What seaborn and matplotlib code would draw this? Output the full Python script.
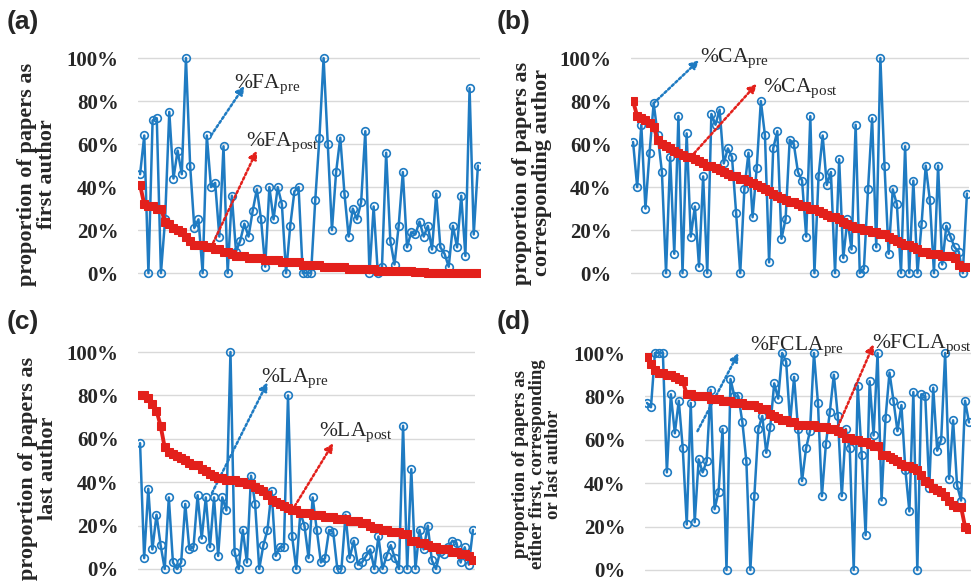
# Authorship proportions before / after - four panel line chart
import numpy as np
import pandas as pd
import matplotlib.pyplot as plt
import seaborn as sns

# Data (percent)
fa_pre = [46, 64, 0, 71, 72, 0, 25, 75, 44, 57,
          46, 100, 50, 21, 25, 0, 64, 40, 42, 17,
          59, 0, 36, 10, 15, 23, 17, 29, 39, 25,
          3, 40, 25, 40, 32, 0, 22, 38, 40, 0,
          0, 0, 34, 63, 100, 60, 20, 47, 63, 37,
          17, 30, 25, 33, 66, 0, 31, 0, 3, 56,
          15, 4, 22, 47, 12, 19, 18, 24, 17, 22,
          11, 37, 12, 9, 3, 22, 12, 36, 8, 86,
          18, 50]
fa_post = [41, 32, 31, 31, 30, 30, 24, 23, 21, 20,
           19, 17, 15, 13, 13, 13, 12, 12, 11, 11,
           10, 10, 9, 8, 8, 8, 7, 7, 7, 7,
           6, 6, 6, 6, 5, 5, 5, 5, 5, 4,
           4, 4, 4, 4, 3, 3, 3, 3, 3, 3,
           2, 2, 2, 2, 2, 2, 2, 1, 1, 1,
           1, 1, 1, 1, 1, 1, 0.5, 0.5, 0.5, 0,
           0, 0, 0, 0, 0, 0, 0, 0, 0, 0,
           0, 0]

ca_pre = [61, 40, 69, 30, 56, 79, 64, 47, 0, 54,
          9, 73, 0, 65, 17, 31, 3, 45, 0, 74,
          69, 76, 51, 58, 54, 28, 0, 39, 56, 26,
          49, 80, 64, 5, 58, 66, 16, 25, 62, 60,
          47, 43, 17, 73, 0, 45, 64, 41, 47, 0,
          53, 7, 25, 11, 69, 0, 2, 39, 72, 12,
          100, 50, 9, 39, 32, 0, 59, 0, 43, 0,
          23, 50, 34, 0, 50, 4, 22, 17, 12, 10,
          0, 37]
ca_post = [80, 73, 72, 71, 70, 68, 62, 60, 59, 58,
           57, 56, 55, 54, 54, 53, 52, 51, 50, 50,
           49, 48, 47, 46, 45, 45, 44, 44, 43, 42,
           41, 40, 39, 38, 37, 36, 35, 34, 33, 33,
           32, 31, 31, 30, 30, 29, 28, 27, 26, 26,
           25, 24, 23, 22, 21, 21, 20, 20, 19, 19,
           18, 18, 17, 16, 15, 14, 13, 13, 12, 11,
           10, 10, 9, 9, 9, 8, 8, 8, 7, 4,
           3, 3]

la_pre = [58, 5, 37, 9, 25, 11, 0, 33, 3, 0,
          3, 30, 9, 10, 34, 14, 33, 10, 33, 6,
          33, 27, 100, 8, 0, 18, 3, 43, 30, 0,
          11, 18, 36, 6, 10, 10, 80, 15, 0, 26,
          20, 5, 33, 18, 3, 5, 18, 17, 0, 0,
          25, 5, 13, 2, 3, 6, 9, 0, 15, 0,
          6, 11, 5, 0, 66, 0, 46, 0, 18, 9,
          20, 4, 0, 8, 7, 10, 13, 12, 3, 10,
          2, 18]
la_post = [80, 80, 79, 76, 73, 66, 56, 54, 53, 52,
           51, 50, 49, 48, 48, 46, 45, 44, 43, 42,
           42, 41, 41, 41, 40, 40, 39, 39, 38, 37,
           36, 34, 32, 31, 30, 29, 28, 27, 27, 26,
           26, 26, 25, 25, 25, 24, 24, 24, 23, 23,
           23, 22, 22, 22, 21, 21, 20, 19, 19, 18,
           18, 17, 17, 17, 16, 16, 13, 13, 12, 12,
           11, 10, 10, 9, 9, 9, 8, 8, 7, 7,
           6, 4]

fcla_pre = [77, 75, 100, 100, 100, 45, 81, 63, 78, 56,
            21, 77, 22, 51, 45, 50, 83, 28, 36, 65,
            0, 88, 80, 80, 68, 50, 0, 34, 65, 71,
            54, 66, 86, 79, 100, 96, 68, 89, 65, 41,
            56, 64, 100, 77, 34, 58, 73, 90, 71, 34,
            65, 56, 0, 85, 53, 16, 87, 62, 100, 32,
            70, 91, 78, 64, 76, 46, 27, 82, 0, 81,
            80, 38, 84, 55, 60, 100, 42, 69, 39, 32,
            78, 68]
fcla_post = [98, 95, 92, 91, 91, 90, 90, 89, 88, 87,
             81, 81, 80, 80, 80, 80, 79, 79, 79, 78,
             78, 78, 77, 77, 77, 76, 76, 76, 75, 74,
             74, 72, 71, 70, 69, 69, 68, 68, 67, 67,
             67, 67, 67, 66, 66, 66, 65, 65, 64, 63,
             61, 61, 60, 60, 59, 59, 58, 57, 57, 53,
             53, 52, 51, 50, 49, 48, 48, 47, 46, 44,
             41, 40, 38, 37, 36, 34, 32, 30, 29, 29,
             20, 19]

panels = ['(a)', '(b)', '(c)', '(d)']
ylabels = ['proportion of papers as\nfirst author',
           'proportion of papers as\ncorresponding author',
           'proportion of papers as\nlast author',
           'proportion of papers as\neither first, corresponding\nor last author']
names = ['FA', 'CA', 'LA', 'FCLA']
pre_series = [fa_pre, ca_pre, la_pre, fcla_pre]
post_series = [fa_post, ca_post, la_post, fcla_post]

BLUE = '#1f7bc2'
RED = '#e3201b'
W, H = 971, 581

sns.set_style("white")
plt.rcParams['font.family'] = ['Liberation Serif', 'DejaVu Serif']
plt.rcParams['mathtext.fontset'] = 'custom'
plt.rcParams['mathtext.rm'] = 'Liberation Serif'
plt.rcParams['mathtext.it'] = 'Liberation Serif'

fig = plt.figure(figsize=(9.71, 5.81), dpi=100)

# axes boxes in pixels: left, top, width, height
boxes = [(138, 51.6, 342, 228), (631, 51.6, 338, 228),
         (138, 345.5, 337, 230), (645, 346.5, 326, 230)]
# arrow tail/head and label position (index, percent)
blue_arrows = [((17, 64), (25, 87), (22.5, 88)),
               ((5, 79), (16, 99), (16.3, 100)),
               ((17.5, 35), (31, 86), (29.5, 88)),
               ((12.7, 64), (23, 100), (26, 103))]
red_arrows = [((17, 12), (28, 57), (25.5, 61)),
              ((14, 54), (30, 88), (31.5, 86)),
              ((37, 27), (47, 58), (43.5, 63)),
              ((48, 66), (57, 104), (56.5, 104))]
ylab_x = [37, 532, 38, 537]
ylab_y = [174, 173, 468, 464]
ylab_size = [16, 16, 16, 13.5]
plab_pos = [(7, 22), (497, 22), (7, 322), (497, 322)]

for i in range(4):
    l, t, w, h = boxes[i]
    ax = fig.add_axes([l / W, 1 - (t + h) / H, w / W, h / H])
    pre = pre_series[i]
    post = post_series[i]
    df = pd.DataFrame({'idx': np.arange(len(pre)), 'pre': pre, 'post': post})

    sns.lineplot(data=df, x='idx', y='pre', ax=ax, color=BLUE, linewidth=1.8,
                 marker='o', markersize=5.5, markerfacecolor='none',
                 markeredgecolor=BLUE, markeredgewidth=1.2, zorder=3)
    sns.lineplot(data=df, x='idx', y='post', ax=ax, color=RED, linewidth=2.8,
                 marker='s', markersize=5.5, markeredgecolor=RED, zorder=4)

    ax.set_xlim(-0.5, len(pre) - 0.5)
    ax.set_ylim(-3, 103)
    ax.set_yticks([0, 20, 40, 60, 80, 100])
    ax.set_yticklabels([f'{v}%' for v in [0, 20, 40, 60, 80, 100]],
                       fontsize=15, fontweight='bold')
    ax.set_xticks([])
    ax.tick_params(axis='y', length=0, pad=14)
    ax.grid(axis='y', color='#d9d9d9', linewidth=1)
    ax.set_xlabel('')
    ax.set_ylabel('')
    for s in ax.spines.values():
        s.set_visible(False)

    # dotted arrows and labels
    tail, head, tpos = blue_arrows[i]
    ax.annotate('', xy=head, xytext=tail, annotation_clip=False,
                arrowprops=dict(arrowstyle='-|>', linestyle=(0, (1, 1)), lw=1.8,
                                color=BLUE, mutation_scale=12, shrinkA=0, shrinkB=0))
    ax.text(tpos[0], tpos[1], '%' + names[i] + r'$_{\mathrm{pre}}$', fontsize=15.5,
            va='center', ha='left', clip_on=False)
    tail, head, tpos = red_arrows[i]
    ax.annotate('', xy=head, xytext=tail, annotation_clip=False,
                arrowprops=dict(arrowstyle='-|>', linestyle=(0, (1, 1)), lw=1.8,
                                color=RED, mutation_scale=12, shrinkA=0, shrinkB=0))
    ax.text(tpos[0], tpos[1], '%' + names[i] + r'$_{\mathrm{post}}$', fontsize=15.5,
            va='center', ha='left', clip_on=False)

    fig.text(ylab_x[i] / W, 1 - ylab_y[i] / H, ylabels[i], rotation=90,
             ha='center', va='center', fontsize=ylab_size[i],
             fontweight='bold', linespacing=0.95)
    fig.text(plab_pos[i][0] / W, 1 - plab_pos[i][1] / H, panels[i],
             ha='left', va='center', fontsize=19, fontweight='bold',
             family=['Liberation Sans', 'DejaVu Sans'])

fig.savefig('out.png', dpi=100)
